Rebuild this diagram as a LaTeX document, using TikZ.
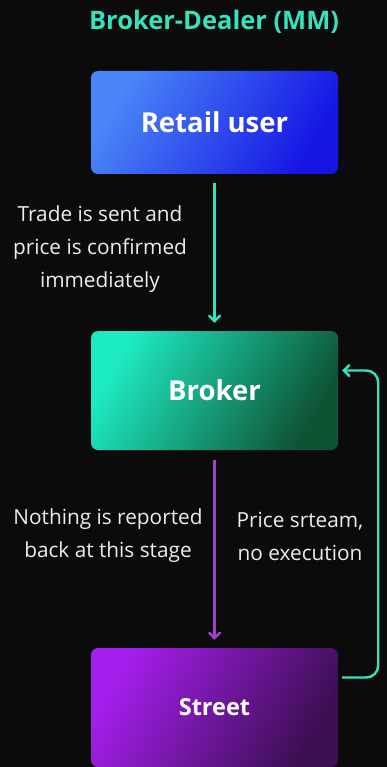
\documentclass[tikz,border=0pt]{standalone}
\usepackage{xcolor}
\usepackage{fontspec}
\setmainfont{Open Sans}
\usepackage{tikz}
\usetikzlibrary{arrows, shapes}

\definecolor{bgdark}{HTML}{0B0B0B}
\definecolor{mint}{HTML}{35E2BC}
\definecolor{plum}{HTML}{A23ED2}
\definecolor{skyblue}{HTML}{4A86F7}
\definecolor{deepblue}{HTML}{1616E4}
\definecolor{brightmint}{HTML}{1EEAC2}
\definecolor{darkgreen}{HTML}{0E5334}
\definecolor{brightviolet}{HTML}{A41EEC}
\definecolor{darkplum}{HTML}{3C0F52}

\begin{document}
\begin{tikzpicture}[x=1pt,y=-1pt,
		box/.style={rounded corners=7pt, minimum width=247pt, text=white, font=\bfseries\fontsize{27.5}{30}\selectfont},
		note/.style={text=white!93!black, align=center, font=\fontsize{20.8}{33}\selectfont},
		link/.style={draw, line width=2.4pt, ->, >=angle 90}]
				\useasboundingbox[fill=bgdark] (0,0) rectangle (387,767);
				\node[text=mint, font=\bfseries\fontsize{25.5}{28}\selectfont] (title) at (214,22) {Broker-Dealer (MM)};
				\node[box, minimum height=103pt, left color=skyblue, right color=deepblue, shading angle=60] (retail) at (214.5,122.5) {Retail user};
				\node[box, minimum height=119pt, left color=brightmint, right color=darkgreen, shading angle=60] (broker) at (214.5,390.5) {Broker};
				\node[box, minimum height=119pt, font=\bfseries\fontsize{23.5}{26}\selectfont, left color=brightviolet, right color=darkplum, shading angle=60] (street) at (214.5,707.5) {Street};
				% arrows between the boxes
				\path[link, mint] ([yshift=-9pt]retail.south) -- ([yshift=8pt]broker.north);
				\path[link, plum] ([yshift=-10pt]broker.south) -- ([yshift=8pt]street.north);
				\path[draw, mint, line width=2.4pt, rounded corners=12pt, ->, >=angle 90] ([xshift=4pt,yshift=30pt]street.east) -- ++(36,0) |- ([xshift=4pt,yshift=20pt]broker.east);
				% labels
				\node[note] (sent) at (100,249) {Trade is sent and\\price is confirmed\\immediately};
				\node[note] (nothing) at (108,536) {Nothing is reported\\back at this stage};
				\node[note] (stream) at (300,536) {Price srteam,\\no execution};
			\end{tikzpicture}
\end{document}
